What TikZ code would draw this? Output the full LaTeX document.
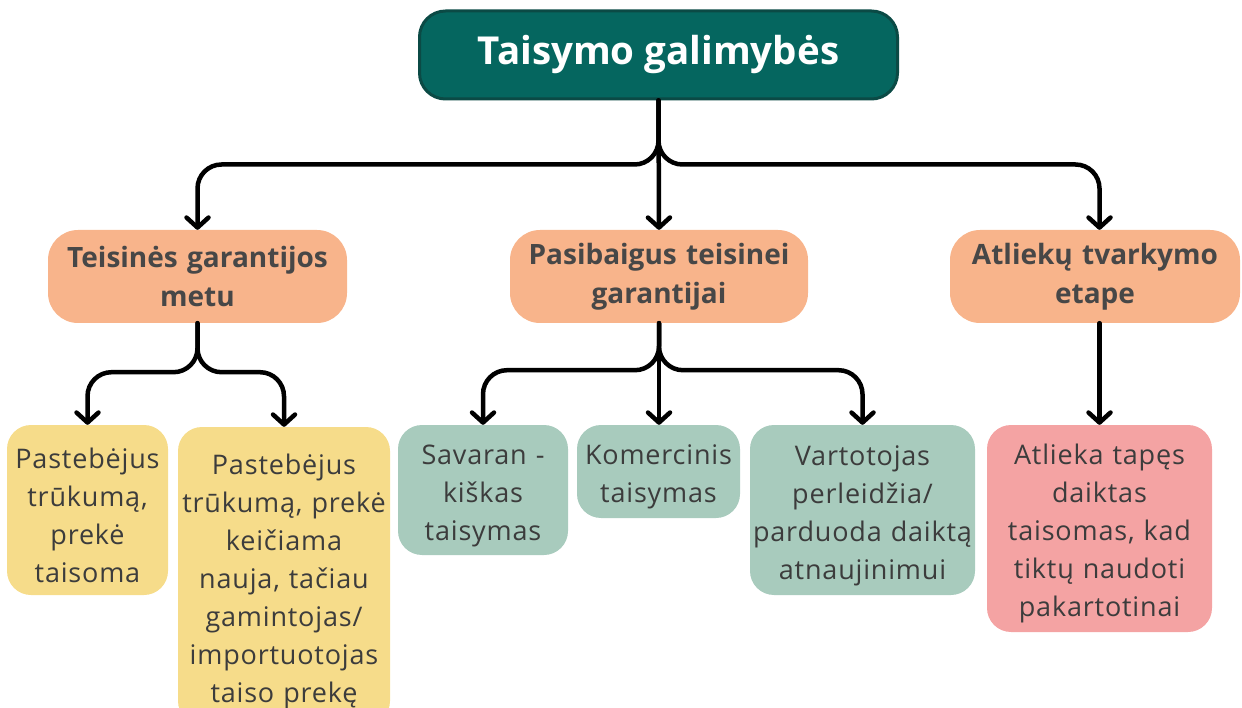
\documentclass[tikz,border=0pt]{standalone}
\usepackage{fontspec}
\setmainfont{Open Sans}
\newfontfamily\bodyfont[LetterSpace=3]{Open Sans}
\usetikzlibrary{arrows.meta}
\definecolor{titlefill}{HTML}{05665F}
\definecolor{titleborder}{HTML}{0B4A45}
\definecolor{orangec}{HTML}{F8B48B}
\definecolor{yellowc}{HTML}{F6DC8A}
\definecolor{greenc}{HTML}{A8CBBD}
\definecolor{pinkc}{HTML}{F4A3A3}
\definecolor{headtext}{HTML}{474747}
\definecolor{bodytext}{HTML}{3C3C3C}
\newcommand{\toplift}{\rule{0pt}{31pt}}
\begin{document}
\begin{tikzpicture}[x=1pt,y=-1pt,
  conn/.style={line width=4.5pt, -{Straight Barb[length=10pt,width=22pt,round]}, line cap=round, line join=round, rounded corners=24pt},
  boxbase/.style={align=center, inner sep=0pt, anchor=center},
  lvltwo/.style={boxbase, fill=orangec, text=headtext, font=\bfseries\fontsize{28}{39}\selectfont, rounded corners=30pt, minimum height=93pt},
  lvlthree/.style={boxbase, text=bodytext, font=\bodyfont\fontsize{27}{38}\selectfont, rounded corners=24pt}]
\useasboundingbox (0,0) rectangle (1242,708);

\node[boxbase, fill=titlefill, draw=titleborder, line width=3pt, rounded corners=26pt,
      minimum width=478pt, minimum height=88pt, text=white,
      font=\bfseries\fontsize{38.5}{46}\selectfont] (T) at (658.5,55) {Taisymo galimybės};

\node[lvltwo, minimum width=299pt, text width=290pt] (O1) at (197.5,276.5) {Teisinės garantijos\\metu};
\node[lvltwo, minimum width=298pt, text width=290pt] (O2) at (659,276.5) {Pasibaigus teisinei\\garantijai};
\node[lvltwo, minimum width=290pt, text width=282pt] (O3) at (1095,276.5) {Atliekų tvarkymo\\etape};

\node[lvlthree, fill=yellowc, minimum width=161pt, text width=158pt, minimum height=170pt] (Y1) at (87.5,510) {\toplift Pastebėjus\\trūkumą,\\prekė\\taisoma};
\node[lvlthree, fill=yellowc, minimum width=212pt, text width=208pt, minimum height=298pt] (Y2) at (284,576) {\toplift Pastebėjus\\trūkumą, prekė\\keičiama\\nauja, tačiau\\gamintojas/\\importuotojas\\taiso prekę};
\node[lvlthree, fill=greenc, minimum width=170pt, text width=166pt, minimum height=130pt] (G1) at (483,490) {\toplift Savaran -\\kiškas\\taisymas};
\node[lvlthree, fill=greenc, minimum width=163pt, text width=160pt, minimum height=93pt] (G2) at (658.5,471.5) {\toplift Komercinis\\taisymas};
\node[lvlthree, fill=greenc, minimum width=225pt, text width=222pt, minimum height=170pt] (G3) at (862.5,510) {\toplift Vartotojas\\perleidžia/\\parduoda daiktą\\atnaujinimui};
\node[lvlthree, fill=pinkc, minimum width=225pt, text width=222pt, minimum height=207pt] (P) at (1099.5,528.5) {\toplift Atlieka tapęs\\daiktas\\taisomas, kad\\tiktų naudoti\\pakartotinai};

% connectors from title
\draw[conn] (T.south) -- (O2.north);
\draw[conn] (T.south) -- ++(0,64) -| (O1.north);
\draw[conn] (T.south) -- ++(0,64) -| (P.north |- O3.north);

% from O1
\draw[conn] (O1.south) -- ++(0,49) -| (Y1.north);
\draw[conn] (O1.south) -- ++(0,49) -| (Y2.north);

% from O2
\draw[conn] (O2.south) -- (O2.south |- G2.north);
\draw[conn] (O2.south) -- ++(0,47) -| (G1.north);
\draw[conn] (O2.south) -- ++(0,47) -| (G3.north);

% from O3
\draw[conn] (P.north |- O3.south) -- (P.north);
\end{tikzpicture}
\end{document}
